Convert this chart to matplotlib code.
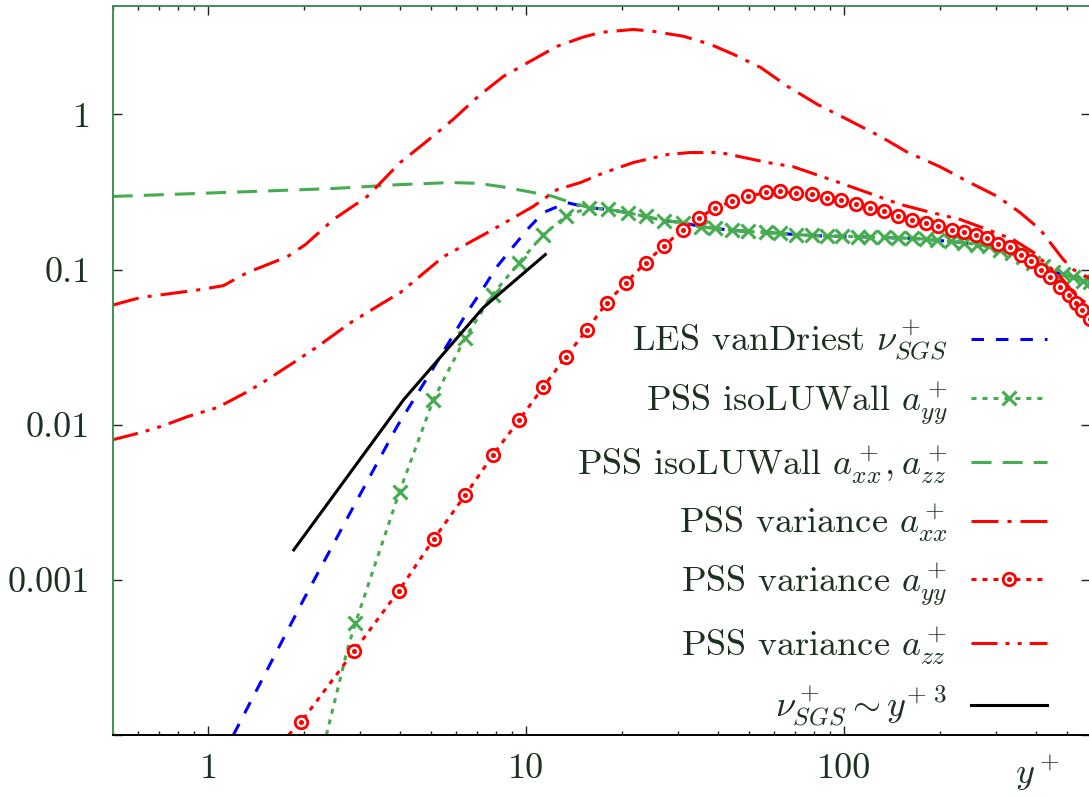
import numpy as np
import matplotlib
matplotlib.use('Agg')
import matplotlib.pyplot as plt
from matplotlib.lines import Line2D
from matplotlib.ticker import FixedLocator, NullLocator, NullFormatter
from matplotlib.legend_handler import HandlerTuple

#--------------------------------------------------------------------------------
# Fontes estilo LaTeX
plt.rcParams['font.family'] = 'cmr10'
plt.rcParams['mathtext.fontset'] = 'cm'
plt.rcParams['axes.formatter.use_mathtext'] = True
plt.rcParams['lines.scale_dashes'] = False

#--------------------------------------------------------------------------------
# Dados (y+ , valor)
# parte comum (isoLUWall e vanDriest coincidem longe da parede)
tail_x = [15.7, 18.0, 20.8, 23.7, 27.0, 31.0, 35.3, 39.3, 44.4, 49.9, 56.5, 62.9,
          70.6, 79.3, 88.4, 98.5, 110, 120, 133, 147, 163, 180, 196, 216, 237,
          262, 284, 309, 337, 364, 393, 422, 452, 488, 525, 563, 590]
tail_y = [0.251, 0.244, 0.233, 0.220, 0.207, 0.201, 0.189, 0.184, 0.179, 0.176, 0.174, 0.171,
          0.168, 0.166, 0.164, 0.164, 0.163, 0.162, 0.161, 0.160, 0.159, 0.157, 0.154, 0.152, 0.149,
          0.145, 0.141, 0.133, 0.127, 0.120, 0.111, 0.105, 0.097, 0.093, 0.089, 0.085, 0.083]

# LES vanDriest nu_SGS
vd_x = [1.198, 1.99, 2.79, 3.92, 4.99, 6.5, 7.26, 8.1, 9.1, 10.06, 11.3, 13.4] + tail_x
vd_y = [1.0e-4, 7.43e-4, 2.7e-3, 9.75e-3, 0.0216, 0.0527, 0.074, 0.105, 0.141, 0.181, 0.233, 0.27] + tail_y

# PSS isoLUWall a_yy
iso_yy_x = [2.35, 2.73, 2.90, 3.99, 5.10, 6.43, 7.83, 9.5, 11.3, 13.3] + tail_x
iso_yy_y = [1.0e-4, 3.5e-4, 5.28e-4, 3.7e-3, 0.0145, 0.0364, 0.069, 0.111, 0.168, 0.22] + tail_y

# PSS isoLUWall a_xx, a_zz
iso_xx_x = [0.5, 0.944, 2.47, 4.0, 5.77, 7.0, 8.3, 10.06, 12.0, 13.7] + tail_x
iso_xx_y = [0.296, 0.31, 0.333, 0.353, 0.364, 0.36, 0.343, 0.319, 0.298, 0.272] + tail_y

# PSS variance a_xx
var_xx_x = [0.5, 0.611, 0.944, 1.115, 1.326, 1.77, 2.02, 2.47, 3.16, 4.01, 4.81, 5.89, 7.06,
            8.47, 10.8, 12.5, 15.0, 17.1, 21.7, 25.1, 31.2, 37.9, 44.8, 54.5, 66.2, 82.3,
            102, 130, 158, 200, 244, 303, 357, 413, 488, 525, 590]
var_xx_y = [0.059, 0.066, 0.0743, 0.0788, 0.0957, 0.121, 0.145, 0.21, 0.296, 0.49, 0.66, 0.93, 1.31,
            1.76, 2.33, 2.75, 3.14, 3.38, 3.53, 3.43, 3.19, 2.83, 2.44, 2.01, 1.52, 1.16,
            0.93, 0.72, 0.57, 0.46, 0.37, 0.296, 0.233, 0.181, 0.116, 0.100, 0.088]

# PSS variance a_yy
var_yy_x = [1.785, 1.96, 2.88, 3.97, 5.11, 6.43, 7.86, 9.5, 11.3, 13.3, 15.5, 17.9, 20.6,
            23.7, 27.0, 31.0, 35.0, 39.3, 44.4, 49.9, 56.5, 62.9, 70.6, 79.3, 88.4, 97.8,
            109, 120, 133, 147, 163, 180, 197, 218, 237, 260, 281, 304, 331, 359, 386,
            416, 444, 478, 507, 536, 560, 590]
var_yy_y = [1.0e-4, 1.22e-4, 3.5e-4, 8.5e-4, 1.83e-3, 3.53e-3, 6.4e-3, 0.01077, 0.0175, 0.0274, 0.041, 0.0612, 0.0825,
            0.111, 0.141, 0.181, 0.216, 0.251, 0.275, 0.296, 0.314, 0.319, 0.31, 0.305, 0.291, 0.279,
            0.266, 0.251, 0.237, 0.223, 0.21, 0.2, 0.19, 0.181, 0.174, 0.166, 0.159, 0.147, 0.139, 0.125, 0.113,
            0.1, 0.089, 0.0777, 0.0688, 0.061, 0.055, 0.048]

# PSS variance a_zz
var_zz_x = [0.5, 0.611, 0.722, 0.859, 1.067, 1.326, 1.53, 1.85, 2.20, 2.80, 3.55, 4.01, 5.48,
            7.54, 10.5, 12.5, 14.8, 17.5, 21.7, 27.8, 32.7, 40.7, 57.3, 69.1, 90.3, 118,
            150, 182, 232, 282, 340, 393, 478, 525, 590]
var_zz_y = [0.0080, 0.00888, 0.00986, 0.01127, 0.0129, 0.0163, 0.0195, 0.0251, 0.0318, 0.0455, 0.0612, 0.071, 0.121,
            0.173, 0.255, 0.328, 0.364, 0.42, 0.49, 0.552, 0.568, 0.568, 0.49, 0.46, 0.381, 0.314,
            0.263, 0.237, 0.21, 0.181, 0.156, 0.129, 0.090, 0.071, 0.058]

# nu_SGS ~ y+^3
cub_x = [1.855, 4.11, 7.32, 11.47]
cub_y = [1.56e-3, 0.01449, 0.0569, 0.125]

labels = [r'LES vanDriest $\nu^+_{SGS}$',
          r'PSS isoLUWall $a^+_{yy}$',
          r'PSS isoLUWall $a^+_{xx}, a^+_{zz}$',
          r'PSS variance $a^+_{xx}$',
          r'PSS variance $a^+_{yy}$',
          r'PSS variance $a^+_{zz}$',
          r'$\nu^+_{SGS} \sim y^{+\ 3}$']

#--------------------------------------------------------------------------------
# Cores e estilos
azul = '#0000ff'
verde = '#45ad50'
verm = '#ff0000'
cor_txt = '#1c321f'
lw = 2.2
fs = 26

st_blue = dict(color=azul, lw=lw, dashes=(9, 8.6))
st_gx = dict(color=verde, lw=lw, dashes=(3.6, 4.3), marker='x', ms=9.5, mew=2.2)
st_gd = dict(color=verde, lw=lw, dashes=(14.4, 8))
st_rxx = dict(color=verm, lw=lw, dashes=(19.4, 6.5, 2.9, 6.5))
st_ryy = dict(color=verm, lw=lw, dashes=(3.6, 4.3), marker='o', ms=9, mew=2.0, mfc='white')
st_dot = dict(color=verm, ls='none', marker='o', ms=2.6)
st_rzz = dict(color=verm, lw=lw, dashes=(18.7, 5.8, 2.9, 5.8, 2.9, 5.8))
st_cub = dict(color='black', lw=lw)

fig = plt.figure(figsize=(10.89, 7.96), dpi=100)
ax = fig.add_axes([112.7/1089, 1-735/796, 976.8/1089, 729/796])
ax.set_xscale('log')
ax.set_yscale('log')

ax.plot(vd_x, vd_y, **st_blue)
ax.plot(iso_yy_x, iso_yy_y, markevery=list(range(2, len(iso_yy_x))), **st_gx)
ax.plot(iso_xx_x, iso_xx_y, **st_gd)
ax.plot(var_xx_x, var_xx_y, **st_rxx)
mk = list(range(1, len(var_yy_x)))
ax.plot(var_yy_x, var_yy_y, markevery=mk, **st_ryy)
ax.plot(var_yy_x, var_yy_y, markevery=mk, **st_dot)
ax.plot(var_zz_x, var_zz_y, **st_rzz)
ax.plot(cub_x, cub_y, **st_cub)

ax.set_xlim(0.5, 590)
ax.set_ylim(1e-4, 5)

# Eixos
ax.xaxis.set_major_locator(FixedLocator([1, 10, 100]))
ax.set_xticklabels(['1', '10', '100'])
menores = [m * d for d in [0.1, 1, 10, 100] for m in range(2, 10)]
ax.xaxis.set_minor_locator(FixedLocator(menores))
ax.xaxis.set_minor_formatter(NullFormatter())
ax.yaxis.set_major_locator(FixedLocator([1e-4, 1e-3, 1e-2, 1e-1, 1]))
ax.set_yticklabels(['', '0.001', '0.01', '0.1', '1'])
ax.yaxis.set_minor_locator(NullLocator())
ax.tick_params(which='both', direction='in', top=True, right=True, colors='#202020',
               labelcolor=cor_txt, labelsize=fs, width=1.0)
ax.tick_params(which='major', length=6.5)
ax.tick_params(which='minor', length=3.2)
ax.tick_params(axis='x', pad=13)
ax.tick_params(axis='y', pad=16)
for s in ['left', 'top']:
    ax.spines[s].set_color('#3f8f52')
for s in ['bottom', 'right']:
    ax.spines[s].set_color('black')
for s in ax.spines.values():
    s.set_linewidth(1.4)

ax.set_xlabel(r'$y^+$', fontsize=fs, color=cor_txt)
ax.xaxis.set_label_coords(0.947, -0.025)

# Legenda (texto a esquerda, amostra a direita)
handles = [Line2D([], [], **st_blue), Line2D([], [], **st_gx), Line2D([], [], **st_gd),
           Line2D([], [], **st_rxx), (Line2D([], [], **st_ryy), Line2D([], [], **st_dot)),
           Line2D([], [], **st_rzz), Line2D([], [], **st_cub)]
leg = ax.legend(handles, labels,
                handler_map={tuple: HandlerTuple(ndivide=1)},
                loc='upper right', bbox_to_anchor=(0.956, 0.571), frameon=False,
                markerfirst=False, numpoints=1, fontsize=fs, handlelength=2.08,
                handletextpad=0.66, labelspacing=0.47, borderpad=0, borderaxespad=0)
for t in leg.get_texts():
    t.set_color(cor_txt)

fig.savefig('out.png', dpi=100)
